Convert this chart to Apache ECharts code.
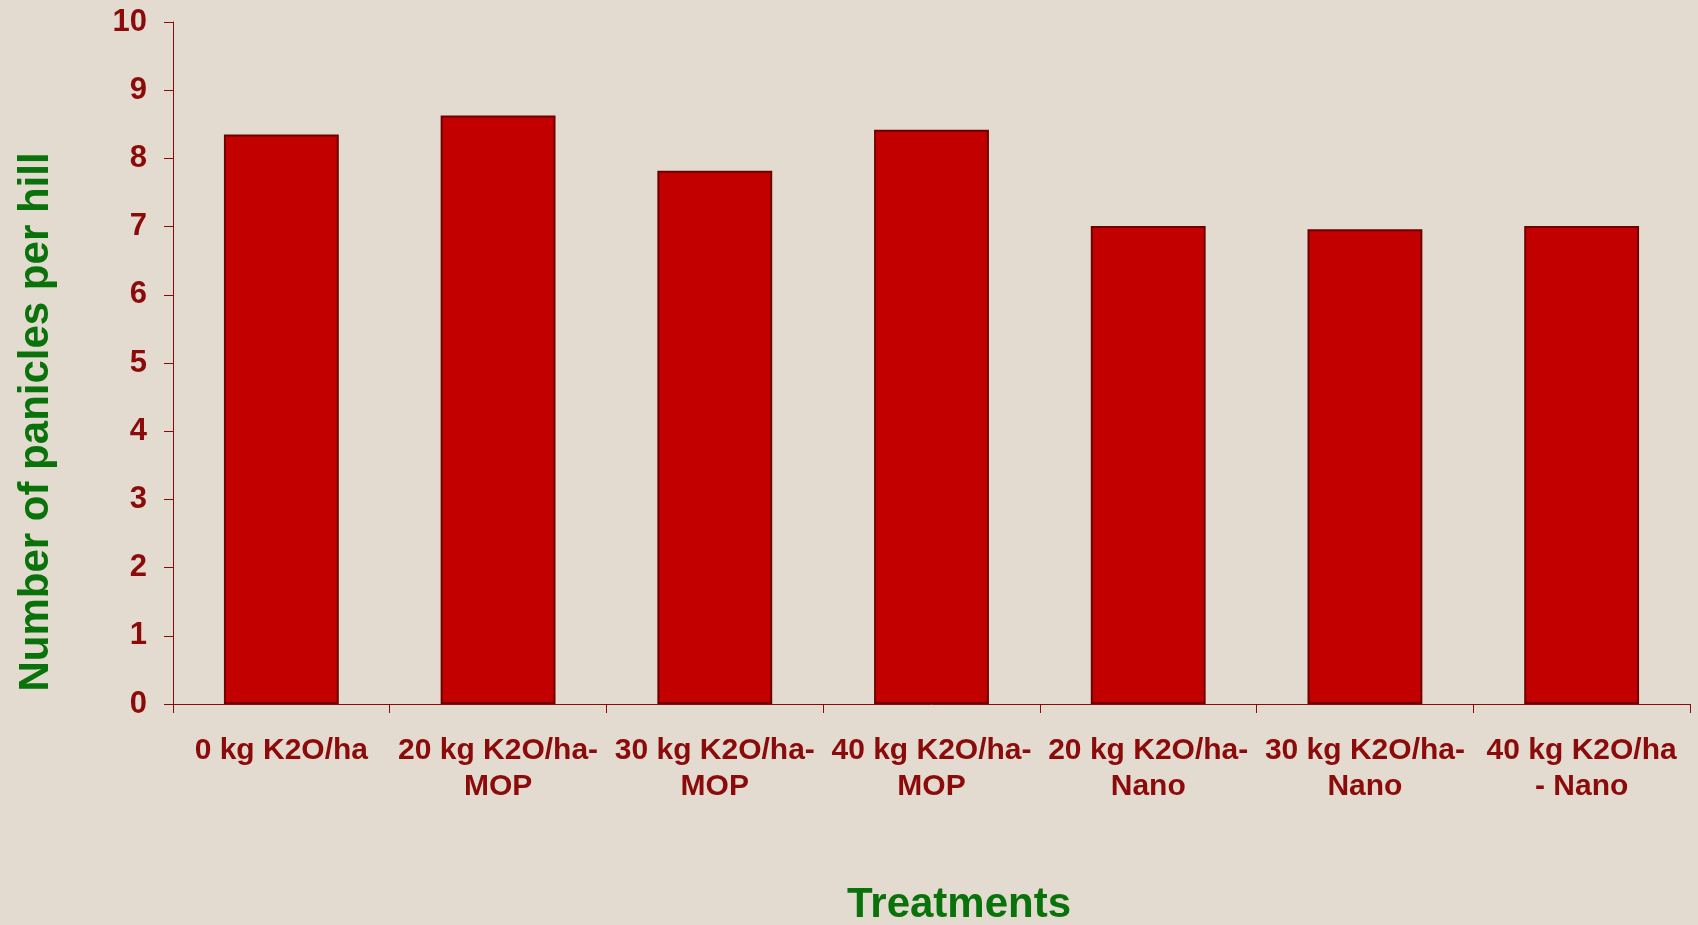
<!DOCTYPE html>
<html>
<head>
<meta charset="utf-8">
<script src="https://cdn.jsdelivr.net/npm/echarts@6/dist/echarts.min.js"></script>
<style>
  html, body { margin: 0; padding: 0; background: #e3dbcf; }
  #main { width: 1698px; height: 925px; }
</style>
</head>
<body>
<div id="main"></div>
<script>
// data
var categories = ['0 kg K2O/ha', '20 kg K2O/ha-\nMOP', '30 kg K2O/ha-\nMOP', '40 kg K2O/ha-\nMOP',
  '20 kg K2O/ha-\nNano', '30 kg K2O/ha-\nNano', '40 kg K2O/ha\n- Nano'];
var panicles = [8.35, 8.63, 7.82, 8.42, 7.01, 6.96, 7.01];
var yTicks = [0, 10, 1]; // min, max, step

var darkRed = '#8b0a0a';
var green = '#0a720a';

var myChart = echarts.init(document.getElementById('main'));
var option = {
  backgroundColor: '#e3dbcf',
  textStyle: { fontFamily: 'Liberation Sans, Arial, sans-serif' },
  grid: { left: 173, right: 8, top: 22, bottom: 221, containLabel: false, outerBoundsMode: 'none' },
  xAxis: {
    type: 'category',
    data: categories,
    name: 'Treatments',
    nameLocation: 'middle',
    nameGap: 180,
    nameTextStyle: { color: green, fontSize: 42, fontWeight: 'bold', padding: [0, 0, 0, 55] },
    axisLine: { lineStyle: { color: darkRed, width: 1 } },
    axisTick: { show: true, length: 9, alignWithLabel: false, lineStyle: { color: darkRed } },
    axisLabel: {
      interval: 0, //show every label
      color: darkRed, fontSize: 30, fontWeight: 'bold', lineHeight: 36, margin: 29
    },
    splitLine: { show: false }
  },
  yAxis: {
    type: 'value',
    min: yTicks[0],
    max: yTicks[1],
    interval: yTicks[2],
    name: 'Number of panicles per hill',
    nameLocation: 'middle',
    nameGap: 116,
    nameTextStyle: { color: green, fontSize: 42, fontWeight: 'bold', padding: [0, 118, 0, 0] },
    axisLine: { show: true, lineStyle: { color: darkRed, width: 1 } },
    axisTick: { show: true, length: 9, lineStyle: { color: darkRed } },
    axisLabel: { color: darkRed, fontSize: 31, fontWeight: 'bold', margin: 26 },
    splitLine: { show: false }
  },
  series: [{
    name: 'Panicles',
    type: 'bar',
    data: panicles,
    barCategoryGap: '47%',
    itemStyle: { color: '#c20000', borderColor: '#6e0000', borderWidth: 2 }
  }]
};
myChart.setOption(option, true);
</script>
</body>
</html>
